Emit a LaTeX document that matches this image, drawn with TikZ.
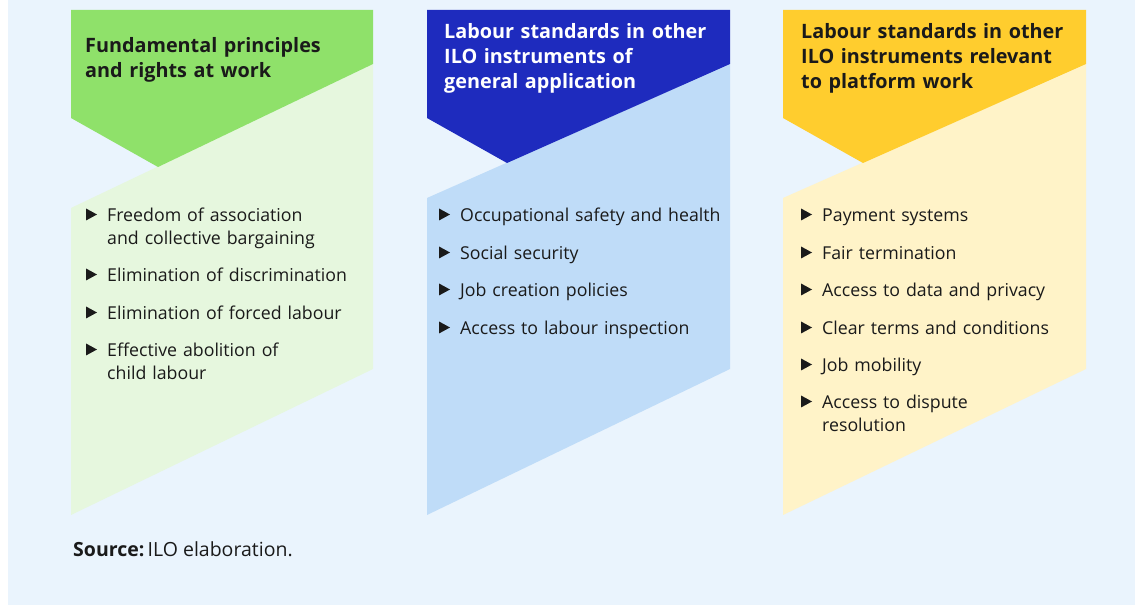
\documentclass[tikz,border=0pt]{standalone}
\usepackage{fontspec}
\setmainfont{Open Sans}
\usepackage{tikz}
\usetikzlibrary{calc}
\usepackage{xcolor}
\definecolor{bgblue}{HTML}{EAF4FD}
\definecolor{ink}{HTML}{1A1A1A}
\definecolor{greenhead}{HTML}{8FE16A}
\definecolor{greenbody}{HTML}{E6F7DE}
\definecolor{bluehead}{HTML}{1E2BBE}
\definecolor{bluebody}{HTML}{BFDCF8}
\definecolor{yellowhead}{HTML}{FFCD2E}
\definecolor{yellowbody}{HTML}{FFF3C8}

\begin{document}
\begin{tikzpicture}[x=1pt,y=1pt,
  head/.style={anchor=base west,inner sep=0,text width=300pt,align=left,
    font=\fontsize{19.8}{25}\selectfont\bfseries,text=ink},
  item/.style={anchor=base west,inner sep=0,text width=270pt,align=left,
    font=\fontsize{17.75}{23}\selectfont,text=ink}]
  \useasboundingbox (0,0) rectangle (1135,605);
  \fill[bgblue] (8,0) rectangle (1135,605);
  % column 1
  \fill[greenbody] (71,397) -- (373,541) -- (373,236) -- (71,90) -- cycle;
  \fill[greenhead] (71,595) -- (373,595) -- (373,541) -- (158,438) -- (71,487) -- cycle;
  \node[head] (fundhead) at (85,552){Fundamental principles\\and rights at work};
  \node[item] (fund1) at (107,383){Freedom of association\\and collective bargaining};
  \node[item] (fund2) at (107,323){Elimination of discrimination};
  \node[item] (fund3) at (107,285){Elimination of forced labour};
  \node[item] (fund4) at (107,248){Effective abolition of\\child labour};
  % column 2
  \fill[bluebody] (427,407) -- (730,541) -- (730,236) -- (427,90) -- cycle;
  \fill[bluehead] (427,595) -- (730,595) -- (730,541) -- (507,442) -- (427,487) -- cycle;
  \node[head,text=white] (genhead) at (444,566){Labour standards in other\\ILO instruments of\\general application};
  \node[item] (gen1) at (460,383){Occupational safety and health};
  \node[item] (gen2) at (460,345){Social security};
  \node[item] (gen3) at (460,308){Job creation policies};
  \node[item] (gen4) at (460,270){Access to labour inspection};
  % column 3
  \fill[yellowbody] (783,407) -- (1086,541) -- (1086,236) -- (783,90) -- cycle;
  \fill[yellowhead] (783,595) -- (1086,595) -- (1086,541) -- (863,442) -- (783,487) -- cycle;
  \node[head] (plathead) at (801,566){Labour standards in other\\ILO instruments relevant\\to platform work};
  \node[item] (plat1) at (822,383){Payment systems};
  \node[item] (plat2) at (822,345){Fair termination};
  \node[item] (plat3) at (822,308){Access to data and privacy};
  \node[item] (plat4) at (822,270){Clear terms and conditions};
  \node[item] (plat5) at (822,233){Job mobility};
  \node[item] (plat6) at (822,196){Access to dispute\\resolution};
  % bullets
  \foreach \n in {fund1,fund2,fund3,fund4,gen1,gen2,gen3,gen4,
                  plat1,plat2,plat3,plat4,plat5,plat6}
    \fill[ink] ($(\n.base west)+(-21,1.5)$) -- ++(0,12) -- ++(11,-6) -- cycle;
  \node[anchor=base west,inner sep=0,font=\fontsize{19.5}{23}\selectfont,text=ink]
    (source) at (73,48){\textbf{Source:}\,ILO elaboration.};
\end{tikzpicture}
\end{document}
